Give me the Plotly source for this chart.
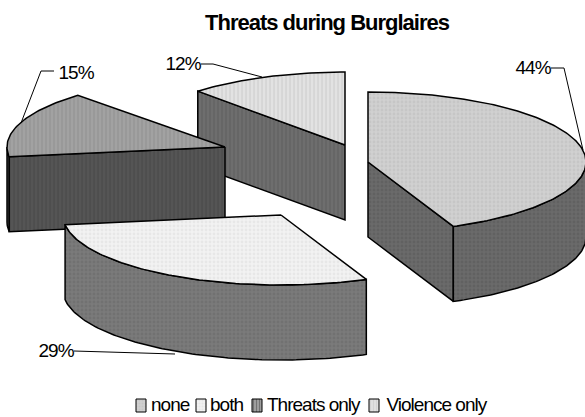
import math
import plotly.graph_objects as go

# ---- data ----
categories = ["none", "both", "Threats only", "Violence only"]
percent = [43.6, 29.2, 15.4, 11.8]
chart_title = "Threats during Burglaires"

# ---- geometry / styles ----
W, H = 585, 417
centers = [(368, 162), (281, 215), (225, 147), (345, 145)]
RX = 218
RY = [70, 70, 70, 73]
DEPTH = 75
START = 90
top_colors = ["#d0d0d0", "#f2f2f2", "#a2a2a2", "#e2e2e2"]
top_fg = ["#bcbcbc", "#dcdcdc", "#8c8c8c", "#c4c4c4"]
wall_colors = ["#6a6a6a", "#7a7a7a", "#555555", "#6e6e6e"]
wall_fg = ["#585858", "#686868", "#444444", "#5a5a5a"]
shapes = [".", ".", "|", "|"]
draw_order = [3, 2, 0, 1]
leaders = [
    ([551, 564, 583], [68, 68, 150]),
    ([74, 175], [351, 354]),
    ([54, 41, 21], [71, 71, 123]),
    ([201, 213, 262], [64, 64, 77]),
]
label_pos = [(533, 67), (56, 350), (76, 72), (183, 63)]
swatch_x = [136, 196, 252, 369]
legend_text_x = [170, 226, 313, 436]
LEGEND_Y = 404

# slice angle ranges (counter-clockwise bounds), clockwise from the top
ranges = []
a = START
for p in percent:
    sweep = p / sum(percent) * 360
    ranges.append((a - sweep, a))
    a -= sweep


def pt(i, t, dz=0):
    cx, cy = centers[i]
    return cx + RX * math.cos(math.radians(t)), cy - RY[i] * math.sin(math.radians(t)) + dz


def arc(i, t0, t1, dz=0):
    n = max(2, int(abs(t1 - t0)) + 1)
    return [pt(i, t0 + (t1 - t0) * k / (n - 1), dz) for k in range(n)]


fig = go.Figure()


def poly(points, fill, fg, shape, name, size=4, solidity=0.4, line=1.5):
    xs = [p[0] for p in points] + [points[0][0]]
    ys = [p[1] for p in points] + [points[0][1]]
    fig.add_trace(go.Scatter(
        x=xs, y=ys, mode="lines", fill="toself", name=name, showlegend=False,
        hoverinfo="name", line=dict(color="#000000", width=line),
        fillcolor=fill,
        fillpattern=dict(shape=shape, size=size, solidity=solidity, fgcolor=fg, bgcolor=fill),
    ))


for i in draw_order:
    t0, t1 = ranges[i]
    c = centers[i]
    name = categories[i]
    # faces of the two radii
    for t, normal in ((t0, t0 - 90), (t1, t1 + 90)):
        if math.sin(math.radians(normal)) < -0.01:
            p = pt(i, t)
            poly([c, p, (p[0], p[1] + DEPTH), (c[0], c[1] + DEPTH)],
                 wall_colors[i], wall_fg[i], shapes[i], name)
    # rim: only the front half of the ellipse is seen
    for shift in (-360, 0):
        a0 = max(t0, 180 + shift)
        a1 = min(t1, 360 + shift)
        if a1 > a0:
            poly(arc(i, a0, a1) + arc(i, a1, a0, DEPTH), wall_colors[i], wall_fg[i], shapes[i], name)
    # top face
    poly([c] + arc(i, t0, t1), top_colors[i], top_fg[i], shapes[i], name)

# leader lines
for lx, ly in leaders:
    fig.add_trace(go.Scatter(x=lx, y=ly, mode="lines", showlegend=False, hoverinfo="skip",
                             line=dict(color="#000000", width=1)))

annotations = []
for i, p in enumerate(percent):
    annotations.append(dict(x=label_pos[i][0], y=label_pos[i][1], text=f"{round(p)}%", showarrow=False,
                            xanchor="center", yanchor="middle",
                            font=dict(family="Liberation Sans", size=19, color="#000000")))

# legend row
for i, name in enumerate(categories):
    x0 = swatch_x[i]
    y0 = LEGEND_Y + 1.5
    poly([(x0, y0 - 6.5), (x0 + 10, y0 - 6.5), (x0 + 10, y0 + 6.5), (x0, y0 + 6.5)],
         top_colors[i], wall_fg[i] if i == 2 else top_fg[i], shapes[i], name, size=3, line=1)
    annotations.append(dict(x=legend_text_x[i], y=LEGEND_Y, text=name, showarrow=False,
                            xanchor="center", yanchor="middle",
                            font=dict(family="Liberation Sans", size=19, color="#000000")))

fig.update_layout(
    width=W, height=H, margin=dict(l=0, r=0, t=0, b=0),
    paper_bgcolor="#ffffff", plot_bgcolor="#ffffff", showlegend=False,
    title=dict(text=f"<b>{chart_title}</b>", x=327 / W, xanchor="center", y=1 - 22 / H, yanchor="middle",
               font=dict(family="Liberation Sans", size=22, color="#000000")),
    xaxis=dict(range=[0, W], visible=False, fixedrange=True),
    yaxis=dict(range=[H, 0], visible=False, fixedrange=True),
    annotations=annotations,
)
post = ("var s=document.createElement('style');"
        "s.textContent='html,body{margin:0;padding:0;overflow:hidden} svg text{letter-spacing:-1px}';"
        "document.head.appendChild(s);")
fig.write_html("out.html", post_script=post, config={"displayModeBar": False})
